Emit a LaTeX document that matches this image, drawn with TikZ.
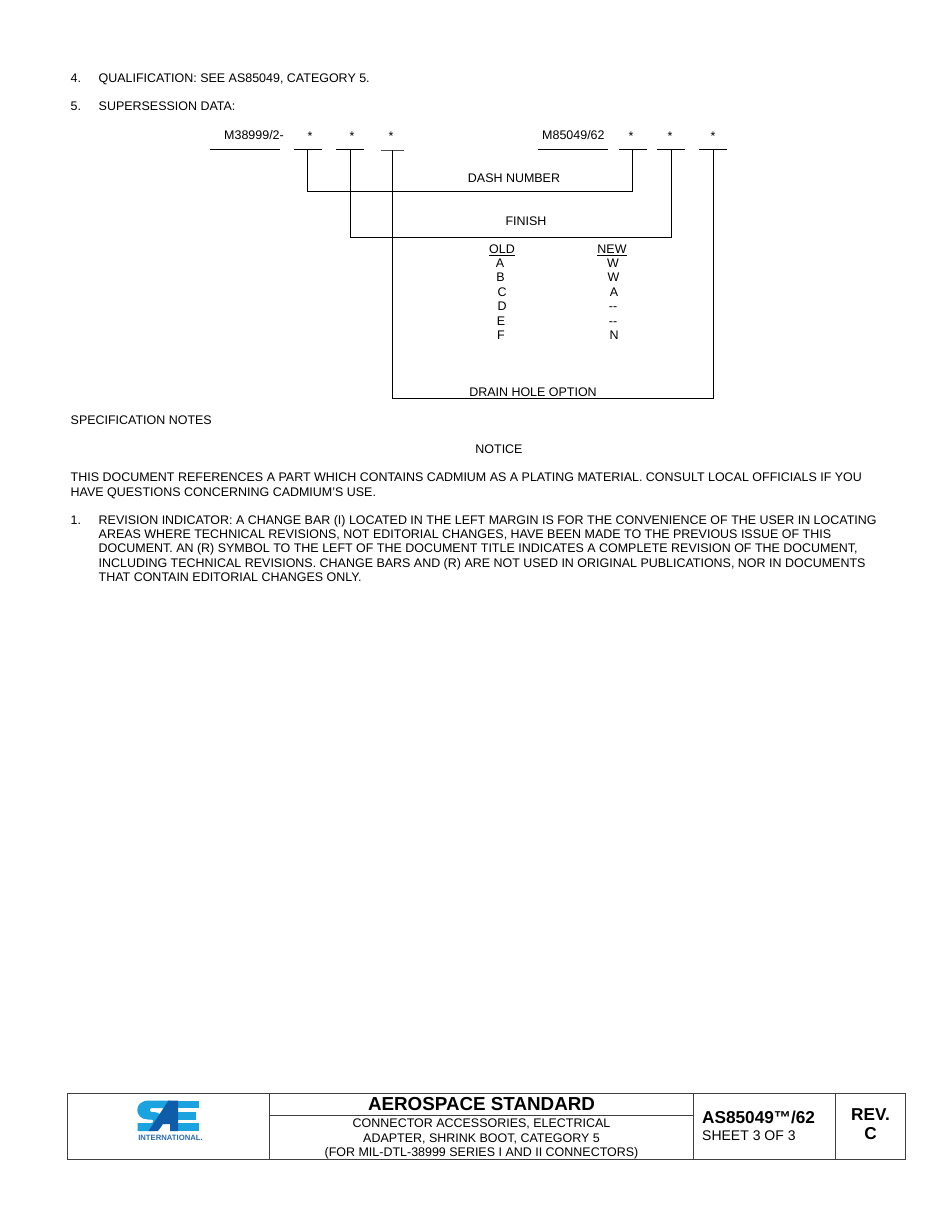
\documentclass[tikz,border=0pt]{standalone}
\usepackage{fontspec}
\setmainfont{Liberation Sans}
\usepackage{xcolor}
\usetikzlibrary{positioning,calc}
\definecolor{saelight}{HTML}{1BA3E0}
\definecolor{saedark}{HTML}{0F5CA8}
\definecolor{saetext}{HTML}{2A6CB0}
\newcommand{\twodash}{-\kern0pt-}
\tikzset{
  txt/.style = {anchor = base west, inner sep = 0pt, font = \fontsize{12.47}{14.4}\selectfont},
  para/.style = {txt, align = left},
  mid/.style = {anchor = base, inner sep = 0pt, font = \fontsize{12.47}{14.4}\selectfont},
  titlefont/.style = {anchor = base, inner sep = 0pt, font = \fontsize{12.47}{14}\selectfont},
  blank/.style = {line width = 1pt},
  frame/.style = {line width = .8pt, draw = black!75}
}
\begin{document}
\begin{tikzpicture}[x = 1pt, y = -1pt]
\useasboundingbox (0,0) rectangle (950,1230);
\fill[white] (0,0) rectangle (950,1230);
% top notes
\node[txt] (n4) at (70.5,82.5) {4.};
\node[txt] (q4) at (98.5,82.5) {QUALIFICATION: SEE AS85049, CATEGORY 5.};
\node[txt] (n5) at (70.5,110.5) {5.};
\node[txt] (q5) at (98.5,110.5) {SUPERSESSION DATA:};
% part numbers
\node[txt] (oldpart) at (224,139.5) {M38999/2-};
\node[txt] (newpart) at (542,139.5) {M85049/62};
\foreach \name/\x in {olda/310,oldb/352,oldc/391,newa/631,newb/670,newc/713}
  \node[mid] (star\name) at (\x,140.5) {*};
% blanks
\coordinate (olda) at (307.5,150);
\coordinate (oldb) at (350,150);
\coordinate (oldc) at (392.5,150);
\coordinate (newa) at (632.5,150);
\coordinate (newb) at (671,150);
\coordinate (newc) at (713,150);
\draw[blank] (210,150) -- (280,150);
\draw[blank] (538,150) -- (608,150);
\draw[blank] (294,150) -- (322,150);
\draw[blank] (336,150) -- (364,150);
\draw[line width = .7pt, black!70] (381,150) -- (404,150);
\draw[blank] (619,150) -- (647,150);
\draw[blank] (657,150) -- (685,150);
\draw[blank] (699,150) -- (727,150);
% connectors
\coordinate (dashy) at (0,191.5);
\coordinate (finy) at (0,237);
\coordinate (drainy) at (0,398.5);
\draw[line width = .8pt] (olda) -- (olda |- dashy) -- (newa |- dashy) -- (newa);
\draw[line width = .8pt] (oldb) -- (oldb |- finy) -- (newb |- finy) -- (newb);
\draw[line width = .8pt] (oldc) -- (oldc |- drainy) -- (newc |- drainy) -- (newc);
\node[mid] (dash) at (514,182.5) {DASH NUMBER};
\node[mid] (finish) at (526,225.5) {FINISH};
\node[mid] (drain) at (533,396.5) {DRAIN HOLE OPTION};
% finish table
\node[mid] (oldhead) at (502,253.5) {\underline{OLD}};
\node[mid] (newhead) at (612,253.5) {\underline{NEW}};
\foreach \a/\b/\y/\xa/\xb in {A/W/267.5/500/613,B/W/282/500.5/613.5,C/A/296.5/502/614,D/\twodash/310.5/502/613,E/\twodash/325/501/613,F/N/339.5/501/614}{
  \node[mid] (old\a) at (\xa,\y) {\a};
  \node[mid] (new\a) at (\xb,\y) {\b};
}
% specification notes
\node[txt] (spec) at (70.5,424) {SPECIFICATION NOTES};
\node[mid] (notice) at (499,453) {NOTICE};
\node[para] (cadmium) at (70.5,496) {THIS DOCUMENT REFERENCES A PART WHICH CONTAINS CADMIUM AS A PLATING MATERIAL. CONSULT LOCAL OFFICIALS IF YOU\\HAVE QUESTIONS CONCERNING CADMIUM’S USE.};
\node[txt] (n1) at (70.5,524) {1.};
\node[para] (revision) at (98.5,581.6) {REVISION INDICATOR: A CHANGE BAR (I) LOCATED IN THE LEFT MARGIN IS FOR THE CONVENIENCE OF THE USER IN LOCATING\\AREAS WHERE TECHNICAL REVISIONS, NOT EDITORIAL CHANGES, HAVE BEEN MADE TO THE PREVIOUS ISSUE OF THIS\\DOCUMENT. AN (R) SYMBOL TO THE LEFT OF THE DOCUMENT TITLE INDICATES A COMPLETE REVISION OF THE DOCUMENT,\\INCLUDING TECHNICAL REVISIONS. CHANGE BARS AND (R) ARE NOT USED IN ORIGINAL PUBLICATIONS, NOR IN DOCUMENTS\\THAT CONTAIN EDITORIAL CHANGES ONLY.};
% title block
\draw[frame] (67.5,1093) rectangle (905.5,1159);
\draw[frame] (269.5,1093) -- (269.5,1159);
\draw[frame] (693.5,1093) -- (693.5,1159);
\draw[frame] (835,1093) -- (835,1159);
\draw[frame] (269.5,1115) -- (693.5,1115);
\node[mid, font = \fontsize{18.8}{18}\bfseries\selectfont] (title) at (481.5,1110.5) {AEROSPACE STANDARD};
\node[titlefont] (t1) at (481.5,1127) {CONNECTOR ACCESSORIES, ELECTRICAL};
\node[titlefont] (t2) at (481.5,1142) {ADAPTER, SHRINK BOOT, CATEGORY 5};
\node[titlefont] (t3) at (481.5,1156) {(FOR MIL-DTL-38999 SERIES I AND II CONNECTORS)};
\node[txt, font = \fontsize{17.2}{16}\bfseries\selectfont] (spno) at (702,1123) {AS85049™/62};
\node[txt, font = \fontsize{14}{14}\selectfont] (sheet) at (702,1140) {SHEET 3 OF 3};
\node[mid, font = \fontsize{17.2}{16}\bfseries\selectfont] (rev) at (870.5,1120) {REV.};
\node[mid, font = \fontsize{17.2}{16}\bfseries\selectfont] (revc) at (870.5,1139) {C};
% logo
\fill[saelight] (176,1100.5) -- (199,1100.5) -- (199,1108) -- (176,1108) -- cycle;
\fill[saelight] (176,1112) -- (195.5,1112) -- (195.5,1119.5) -- (176,1119.5) -- cycle;
\fill[saelight] (176,1123) -- (199,1123) -- (199,1131) -- (176,1131) -- cycle;
\fill[saelight] (137.5,1123) -- (151,1123) .. controls (154,1123) and (154,1119.5) .. (151,1119.5) -- (148,1119.5) .. controls (134,1119.5) and (133,1100.5) .. (149,1100.5) -- (170,1100.5) -- (165,1108) -- (152,1108) .. controls (149,1108) and (149,1112) .. (152,1112) -- (154,1112) .. controls (166,1112) and (166,1131) .. (152,1131) -- (137.5,1131) -- cycle;
\fill[saedark] (168.5,1100.5) -- (178,1100.5) -- (178,1131) -- (170,1131) -- (170,1124) -- (163,1124) -- (158,1131) -- (148.5,1131) -- cycle;
\node[mid, font = \fontsize{7.7}{6}\bfseries\selectfont, text = saetext] (intl) at (170.5,1140) {INTERNATIONAL.};
\end{tikzpicture}
\end{document}
